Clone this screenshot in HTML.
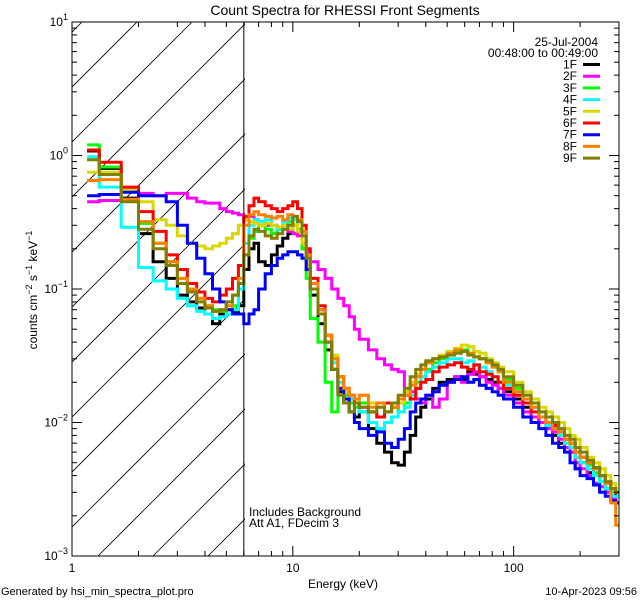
<!DOCTYPE html>
<html><head><meta charset="utf-8"><style>
body{margin:0;background:#fff}
svg{display:block;font-family:"Liberation Sans",sans-serif}
</style></head><body>
<svg id="chart" width="640" height="600" viewBox="0 0 640 600" xmlns="http://www.w3.org/2000/svg">
<rect width="640" height="600" fill="#fff"/>
<defs><clipPath id="hc"><rect x="72" y="22" width="173" height="534"/></clipPath>
<clipPath id="pc"><rect x="72" y="22" width="547" height="534"/></clipPath></defs>
<g id="hatch" clip-path="url(#hc)"></g>
<g id="series" clip-path="url(#pc)"></g>
<g id="axes"></g>
<text x="345" y="15" font-size="14" text-anchor="middle">Count Spectra for RHESSI Front Segments</text>
<text x="343" y="588" font-size="12" text-anchor="middle">Energy (keV)</text>
<text transform="translate(37,290) rotate(-90)" font-size="12" text-anchor="middle">counts cm<tspan dy="-5" font-size="9">−2</tspan><tspan dy="5"> s</tspan><tspan dy="-5" font-size="9">−1</tspan><tspan dy="5"> keV</tspan><tspan dy="-5" font-size="9">−1</tspan></text>
<text x="598" y="46" font-size="12" text-anchor="end">25-Jul-2004</text>
<text x="598" y="57" font-size="12" text-anchor="end">00:48:00 to 00:49:00</text>
<text x="249" y="516" font-size="12">Includes Background</text>
<text x="249" y="527" font-size="12">Att A1, FDecim 3</text>
<text x="1" y="595" font-size="11">Generated by hsi_min_spectra_plot.pro</text>
<text x="637" y="595" font-size="11" text-anchor="end">10-Apr-2023 09:56</text>
<g id="legend"></g>
</svg>
<script>
const edges=[1.17,1.33,1.67,2.0,2.33,2.67,3.0,3.33,3.67,4.0,4.33,4.67,5.0,5.33,5.67,6.0,6.33,6.67,7.0,7.5,8,8.5,9,9.5,10,10.5,11,11.5,12,13,14,15,16,17,18,19,20,22,24,26,28,30,32,34,36,38,40,43,46,50,54,58,62,66,70,75,80,85,90,100,110,120,130,140,150,160,170,180,190,200,215,230,245,260,275,290,300];
const seriesNames=["1F","2F","3F","4F","5F","6F","7F","8F","9F"];
const seriesColors=["#000000","#ff00ff","#00ff00","#00ffff","#d8d800","#ff0000","#0000ff","#ff8000","#808000"];
const s1F=[1.08,0.80,0.48,0.26,0.16,0.12,0.09,0.08,0.072,0.065,0.055,0.065,0.07,0.068,0.075,0.14,0.2,0.22,0.16,0.15,0.18,0.21,0.24,0.26,0.3,0.27,0.2,0.14,0.09,0.055,0.035,0.025,0.017,0.014,0.012,0.011,0.012,0.009,0.007,0.006,0.005,0.0048,0.006,0.008,0.011,0.013,0.015,0.018,0.02,0.021,0.022,0.021,0.024,0.023,0.022,0.021,0.02,0.018,0.017,0.015,0.013,0.011,0.01,0.009,0.008,0.007,0.0065,0.006,0.0045,0.005,0.0042,0.0035,0.004,0.0032,0.0028,0.003];
const s2F=[0.45,0.46,0.55,0.52,0.5,0.52,0.52,0.48,0.45,0.44,0.44,0.4,0.38,0.37,0.36,0.33,0.35,0.33,0.32,0.3,0.3,0.28,0.3,0.27,0.26,0.25,0.22,0.19,0.16,0.14,0.12,0.1,0.085,0.075,0.062,0.05,0.042,0.035,0.03,0.027,0.025,0.024,0.018,0.017,0.015,0.014,0.016,0.013,0.015,0.02,0.022,0.02,0.023,0.024,0.022,0.02,0.019,0.018,0.016,0.014,0.012,0.011,0.01,0.009,0.0085,0.0075,0.0065,0.006,0.005,0.0045,0.004,0.0035,0.0033,0.003,0.0027,0.0025];
const s3F=[1.2,0.82,0.55,0.31,0.22,0.16,0.12,0.1,0.085,0.075,0.07,0.068,0.07,0.075,0.1,0.18,0.24,0.27,0.3,0.28,0.26,0.28,0.3,0.32,0.3,0.28,0.2,0.12,0.06,0.04,0.02,0.012,0.018,0.016,0.014,0.013,0.014,0.012,0.011,0.012,0.013,0.012,0.014,0.015,0.02,0.022,0.025,0.028,0.03,0.033,0.034,0.035,0.033,0.031,0.03,0.028,0.026,0.024,0.021,0.018,0.015,0.013,0.012,0.01,0.009,0.0085,0.0075,0.007,0.006,0.0055,0.0048,0.0042,0.004,0.0035,0.003,0.003];
const s4F=[0.98,0.58,0.29,0.145,0.115,0.1,0.085,0.075,0.068,0.065,0.06,0.062,0.065,0.07,0.1,0.22,0.3,0.33,0.32,0.33,0.3,0.28,0.32,0.34,0.33,0.32,0.25,0.17,0.1,0.065,0.04,0.028,0.02,0.017,0.015,0.014,0.012,0.01,0.009,0.01,0.011,0.012,0.013,0.016,0.018,0.022,0.024,0.026,0.028,0.03,0.03,0.028,0.029,0.027,0.026,0.024,0.022,0.02,0.019,0.016,0.014,0.012,0.011,0.0095,0.009,0.008,0.007,0.0065,0.0055,0.005,0.0045,0.004,0.0036,0.0032,0.0028,0.0028];
const s5F=[0.75,0.75,0.55,0.45,0.33,0.3,0.25,0.22,0.21,0.2,0.21,0.22,0.24,0.26,0.3,0.33,0.32,0.31,0.3,0.31,0.3,0.29,0.3,0.28,0.3,0.27,0.22,0.15,0.1,0.07,0.045,0.032,0.022,0.017,0.016,0.014,0.016,0.014,0.013,0.012,0.013,0.014,0.017,0.02,0.023,0.025,0.028,0.03,0.032,0.034,0.036,0.038,0.037,0.034,0.033,0.03,0.028,0.026,0.024,0.02,0.017,0.015,0.013,0.012,0.011,0.01,0.009,0.008,0.0075,0.0065,0.0055,0.005,0.0045,0.004,0.0035,0.003];
const s6F=[1.1,0.89,0.58,0.38,0.27,0.18,0.14,0.11,0.095,0.085,0.08,0.09,0.1,0.12,0.15,0.35,0.42,0.48,0.45,0.42,0.4,0.38,0.4,0.42,0.45,0.4,0.3,0.2,0.12,0.075,0.045,0.03,0.022,0.018,0.016,0.014,0.013,0.012,0.011,0.014,0.013,0.015,0.016,0.015,0.018,0.02,0.021,0.024,0.026,0.027,0.028,0.026,0.025,0.027,0.024,0.023,0.022,0.02,0.018,0.016,0.014,0.012,0.011,0.01,0.0095,0.0085,0.0075,0.007,0.006,0.0055,0.005,0.0045,0.004,0.0036,0.0032,0.003];
const s7F=[0.5,0.51,0.53,0.5,0.5,0.45,0.3,0.22,0.17,0.13,0.1,0.08,0.07,0.065,0.065,0.055,0.065,0.07,0.1,0.13,0.15,0.17,0.18,0.19,0.19,0.18,0.17,0.14,0.1,0.07,0.04,0.025,0.018,0.015,0.012,0.01,0.009,0.008,0.0085,0.007,0.0065,0.0075,0.009,0.012,0.014,0.015,0.016,0.017,0.019,0.02,0.021,0.022,0.02,0.021,0.019,0.018,0.017,0.016,0.015,0.013,0.011,0.01,0.009,0.008,0.007,0.0065,0.006,0.005,0.0045,0.004,0.0038,0.0034,0.003,0.0028,0.0026,0.0025];
const s8F=[0.65,0.66,0.47,0.32,0.22,0.16,0.12,0.1,0.085,0.075,0.068,0.07,0.075,0.09,0.12,0.3,0.36,0.38,0.36,0.35,0.34,0.35,0.33,0.36,0.35,0.33,0.27,0.18,0.11,0.07,0.045,0.03,0.022,0.018,0.016,0.015,0.016,0.013,0.014,0.012,0.013,0.015,0.016,0.019,0.022,0.025,0.028,0.03,0.031,0.033,0.035,0.034,0.033,0.031,0.03,0.028,0.026,0.024,0.02,0.017,0.015,0.013,0.011,0.01,0.009,0.0085,0.0075,0.007,0.006,0.0055,0.005,0.0045,0.004,0.0035,0.0025,0.0017];
const s9F=[0.93,0.72,0.45,0.28,0.2,0.15,0.11,0.095,0.08,0.072,0.068,0.07,0.08,0.09,0.11,0.18,0.25,0.28,0.27,0.25,0.24,0.26,0.28,0.3,0.35,0.32,0.25,0.17,0.1,0.065,0.04,0.025,0.016,0.014,0.012,0.014,0.013,0.012,0.013,0.012,0.014,0.016,0.018,0.022,0.025,0.027,0.029,0.03,0.031,0.032,0.033,0.034,0.032,0.031,0.03,0.029,0.027,0.025,0.022,0.019,0.016,0.014,0.012,0.011,0.01,0.009,0.008,0.0075,0.0065,0.006,0.0052,0.0046,0.004,0.0036,0.0032,0.003];
const yTickExps=[-3,-2,-1,0,1];
const xTickLabels=["1","10","100"];
const xTickValues=[1,10,100];

const NS="http://www.w3.org/2000/svg";
const L=72,R=619,T=22,B=556,XMIN=1,XMAX=300,YMIN=-3,YMAX=1;
function xs(e){return L+(Math.log10(e)-Math.log10(XMIN))/(Math.log10(XMAX)-Math.log10(XMIN))*(R-L);}
function ys(v){return T+(YMAX-Math.log10(v))/(YMAX-YMIN)*(B-T);}
function mk(tag,attrs,parent){const el=document.createElementNS(NS,tag);for(const k in attrs)el.setAttribute(k,attrs[k]);parent.appendChild(el);return el;}

const hatch=document.getElementById('hatch');
for(let k=-2;k<16;k++){const c=159+55*k;
 const ln=mk('line',{x1:c-T-600,y1:T+600,x2:c-T,y2:T,stroke:'#000','stroke-width':0.8},hatch);
 
 }

const sg=document.getElementById('series');
const all=[s1F,s2F,s3F,s4F,s5F,s6F,s7F,s8F,s9F];
all.forEach((vals,i)=>{let d='';
 for(let j=0;j<vals.length;j++){const y=ys(vals[j]).toFixed(1);
  d+=(j===0?'M':'L')+xs(edges[j]).toFixed(1)+','+y+'L'+xs(edges[j+1]).toFixed(1)+','+y;}
 const p=mk('path',{d:d,fill:'none',stroke:seriesColors[i],'stroke-width':3,'stroke-linejoin':'miter'},sg);
 
 });

const ax=document.getElementById('axes');
const frame=mk('rect',{x:L,y:T,width:R-L,height:B-T,fill:'none',stroke:'#000','stroke-width':1},ax);


const vl=mk('line',{x1:xs(6),y1:T,x2:xs(6),y2:B,stroke:'#000','stroke-width':1},ax);


for(let dcd=1;dcd<=100;dcd*=10){for(let m=1;m<10;m++){const e=dcd*m;if(e>XMAX)break;const x=xs(e);const len=m===1?10:5;
 const t1=mk('line',{x1:x,y1:B,x2:x,y2:B-len,stroke:'#000'},ax);
 
 
 const t2=mk('line',{x1:x,y1:T,x2:x,y2:T+len,stroke:'#000'},ax);
 
 }}
xTickValues.forEach((v,i)=>{const t=mk('text',{x:xs(v),y:572,'font-size':12,'text-anchor':'middle'},ax);t.textContent=xTickLabels[i];
 
 });
for(let ex=YMIN;ex<YMAX;ex++){for(let m=1;m<10;m++){const y=ys(m*Math.pow(10,ex));const len=m===1?10:5;
 const t1=mk('line',{x1:L,y1:y,x2:L+len,y2:y,stroke:'#000'},ax);
 
 
 const t2=mk('line',{x1:R,y1:y,x2:R-len,y2:y,stroke:'#000'},ax);
 
 }}
yTickExps.forEach(ex=>{const y=ys(Math.pow(10,ex));const t=mk('text',{x:L-4,y:y+4,'font-size':12,'text-anchor':'end'},ax);
 t.innerHTML='10<tspan dy="-6" font-size="9">'+(ex<0?'−'+(-ex):ex)+'</tspan>';
 
 });

const lg=document.getElementById('legend');
seriesNames.forEach((n,i)=>{const y=64.5+i*11.7;
 const t=mk('text',{x:577,y:y+4,'font-size':12,'text-anchor':'end'},lg);t.textContent=n;
 
 
 const l=mk('line',{x1:583,y1:y,x2:600,y2:y,stroke:seriesColors[i],'stroke-width':3},lg);
 
 });
</script>
</body></html>
